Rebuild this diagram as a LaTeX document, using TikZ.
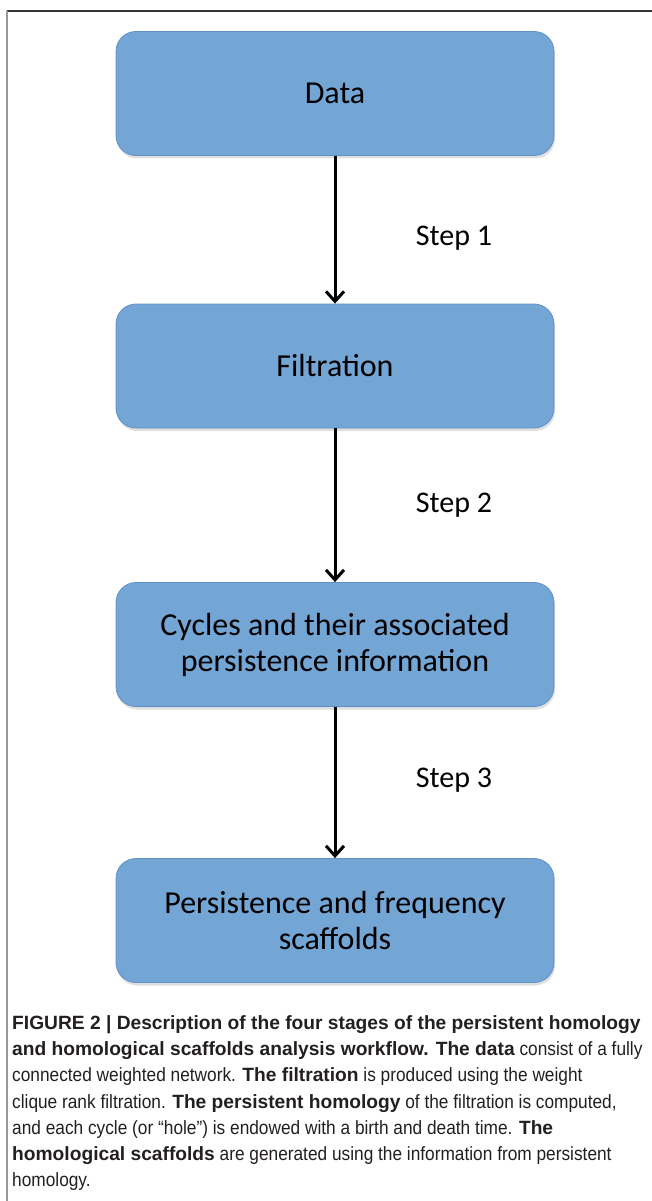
\documentclass[tikz,border=0pt]{standalone}
\usepackage{fontspec}
\setmainfont{Carlito}
\newfontfamily\capfont[FakeStretch=0.9]{Liberation Sans}
\newfontfamily\capboldfont{Liberation Sans Bold}
\newcommand\capb[1]{{\capboldfont #1}}
\usetikzlibrary{arrows.meta, shadows}
\definecolor{boxblue}{RGB}{115,165,213}
\definecolor{boxedge}{RGB}{95,145,200}
\definecolor{captext}{RGB}{35,31,32}
\tikzstyle{stage} = [rectangle, rounded corners=20pt, minimum width=438pt, minimum height=124pt, text centered, align=center, fill=boxblue, draw=boxedge, line width=0.8pt, font=\fontsize{32}{36}\selectfont, drop shadow={shadow xshift=1pt, shadow yshift=-3pt, opacity=0.25}]
\tikzstyle{steplabel} = [font=\fontsize{30}{36}\selectfont]
\tikzstyle{arrow} = [line width=3pt, -{Straight Barb[length=10pt, width=18pt]}]

\begin{document}
\begin{tikzpicture}[x=1pt, y=-1pt]
            \useasboundingbox (0,0) rectangle (652,1201);
            % frame
            \draw [black!80, line width=1.2pt] (7,11) -- (652,11);
            \draw [black!40, line width=2.5pt] (7,11) -- (7,1201);
            \node [stage] at (335,93.5) (data) {Data};
            \node [stage] at (335,366) (filt) {Filtration};
            \node [stage] at (335,644.5) (cycles) {Cycles and their associated\\persistence information};
            \node [stage] at (335,920.5) (scaff) {Persistence and frequency\\scaffolds};
            \node [steplabel] at (454,238) (step1) {Step 1};
            \node [steplabel] at (454,505) (step2) {Step 2};
            \node [steplabel] at (454,780) (step3) {Step 3};
            \draw [arrow] (data) -- (filt);
            \draw [arrow] (filt) -- (cycles);
            \draw [arrow] (cycles) -- (scaff);
            % caption
            \node [anchor=north west, align=left, inner sep=0pt, text=captext, font=\capfont\fontsize{19.2}{26.3}\selectfont] at (12,1015) (caption) {%
              \capb{FIGURE 2 | Description of the four stages of the persistent homology}\\
              \capb{and homological scaffolds analysis workflow. The data} consist of a fully\\
              connected weighted network. \capb{The filtration} is produced using the weight\\
              clique rank filtration. \capb{The persistent homology} of the filtration is computed,\\
              and each cycle (or “hole”) is endowed with a birth and death time. \capb{The}\\
              \capb{homological scaffolds} are generated using the information from persistent\\
              homology.};
\end{tikzpicture}
\end{document}
